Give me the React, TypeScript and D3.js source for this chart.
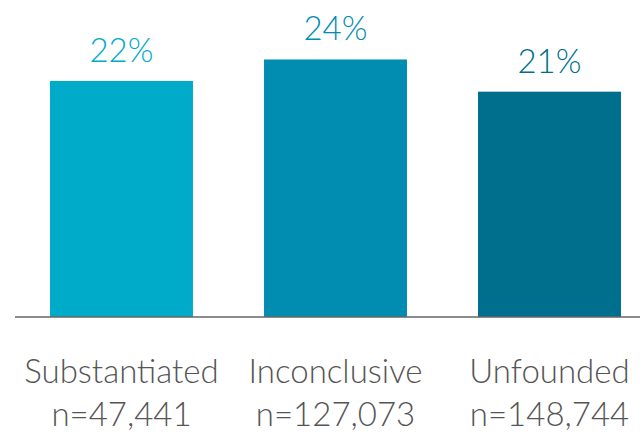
import React from "react";
import * as d3 from "d3";

const categories = ["Substantiated", "Inconclusive", "Unfounded"];
const counts = ["n=47,441", "n=127,073", "n=148,744"];
const values = [22, 24, 21];
const colors = ["#00aac9", "#008db1", "#006f8d"];

const W = 640;
const H = 437;
const baseY = 317;

export default function App() {
  const x = d3
    .scaleBand<string>()
    .domain(categories)
    .range([14.5, 656.5])
    .paddingInner(0.332)
    .paddingOuter(0.166);
  const y = d3.scaleLinear().domain([0, 30]).range([baseY, baseY - 321.9]);
  const font = "Lato, 'Open Sans', sans-serif";

  return (
    <svg
      width={W}
      height={H}
      style={{ position: "absolute", left: 0, top: 0, background: "#fff" }}
      fontFamily={font}
    >
      {categories.map((c, i) => (
        <g key={c}>
          <rect
            x={x(c)}
            y={y(values[i])}
            width={x.bandwidth()}
            height={baseY - y(values[i])}
            fill={colors[i]}
          />
          <text
            x={(x(c) as number) + x.bandwidth() / 2}
            y={y(values[i]) - 19}
            textAnchor="middle"
            fontSize={33}
            fontWeight={300}
            fill={colors[i]}
          >
            {values[i]}%
          </text>
          <text
            x={(x(c) as number) + x.bandwidth() / 2}
            y={383}
            textAnchor="middle"
            fontSize={33}
            fontWeight={300}
            fill="#555"
          >
            {c}
          </text>
          <text
            x={(x(c) as number) + x.bandwidth() / 2}
            y={426}
            textAnchor="middle"
            fontSize={33}
            fontWeight={300}
            fill="#555"
          >
            {counts[i]}
          </text>
        </g>
      ))}
      <line x1={15} x2={W} y1={baseY} y2={baseY} stroke="#666" strokeWidth={1.5} />
    </svg>
  );
}
